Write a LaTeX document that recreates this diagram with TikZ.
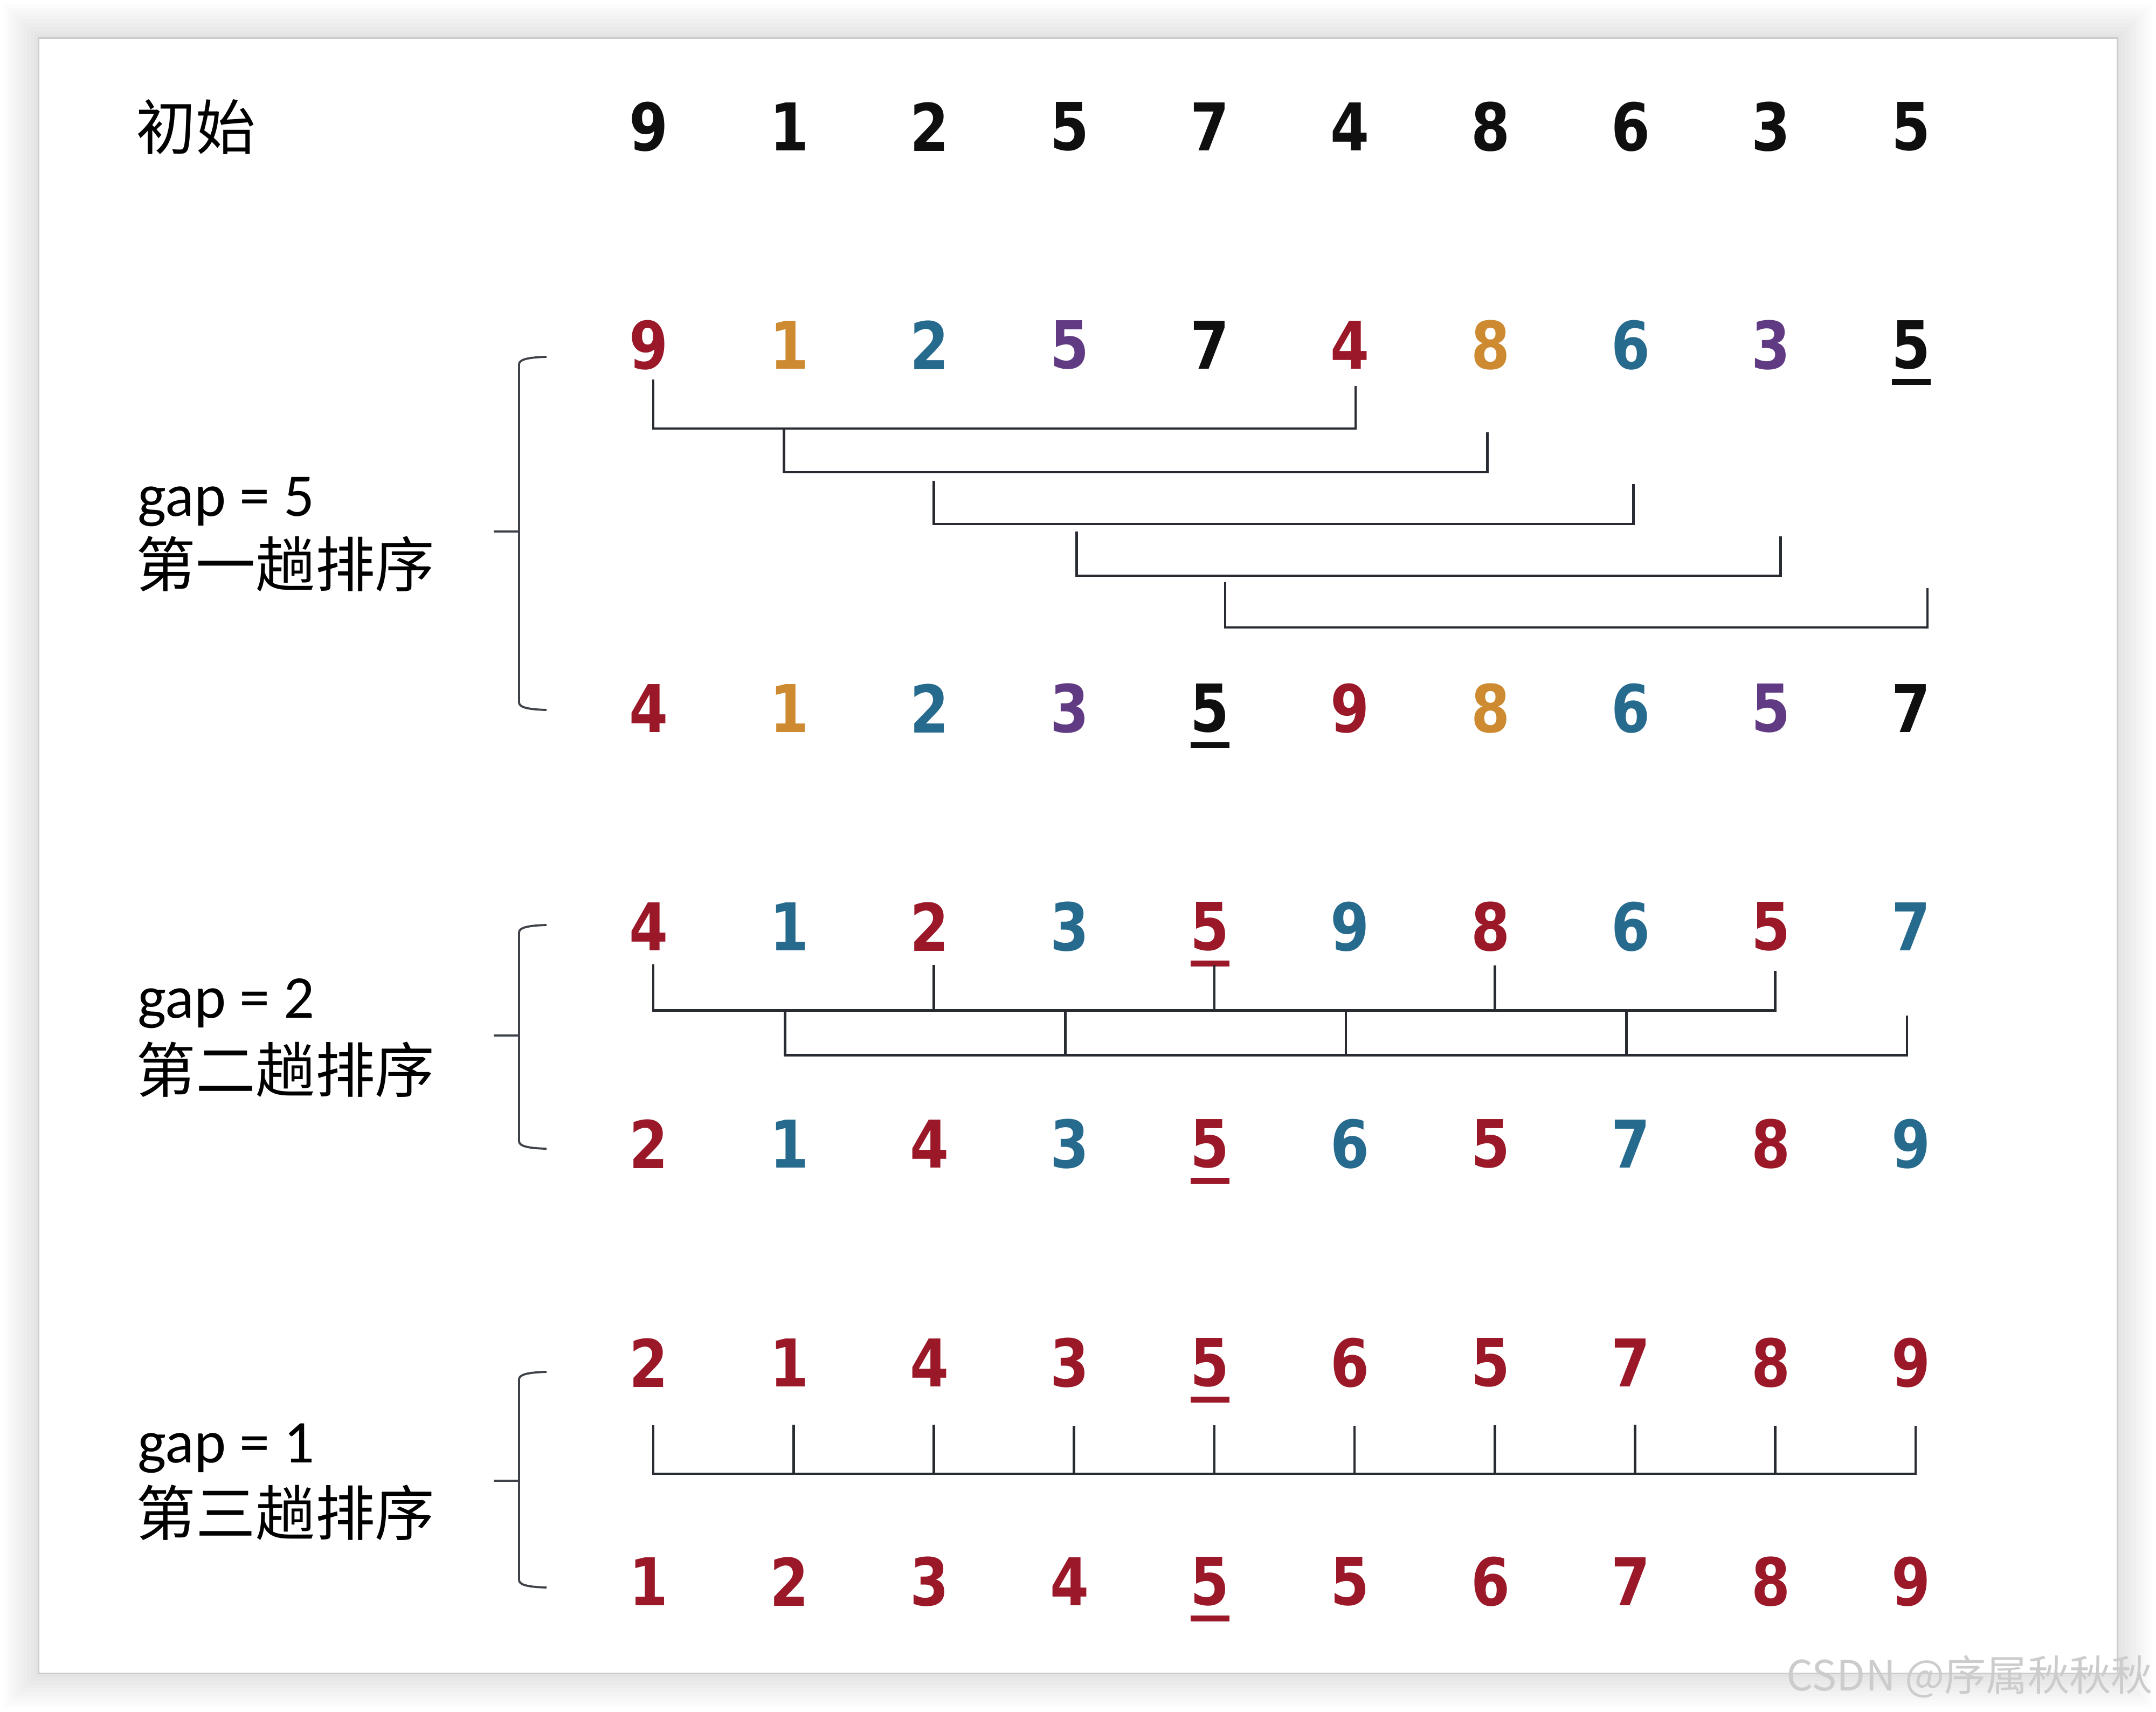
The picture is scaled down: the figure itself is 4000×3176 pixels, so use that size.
\documentclass[tikz,border=0pt]{standalone}
\usepackage{fontspec}
\setmainfont{Carlito}
\newfontfamily\cjkfont{Noto Sans CJK SC}
\newfontfamily\digitfont{DejaVu Sans Bold}[FakeStretch=0.85]
\usetikzlibrary{calc,positioning}

\definecolor{rd}{RGB}{155,24,40}
\definecolor{og}{RGB}{205,138,48}
\definecolor{bl}{RGB}{38,106,142}
\definecolor{pp}{RGB}{96,58,130}
\definecolor{bk}{RGB}{15,15,15}
\definecolor{linkgray}{RGB}{40,44,50}
\definecolor{bracegray}{RGB}{62,66,72}

\tikzset{
  num/.style={inner sep=0pt, font=\digitfont\fontsize{34.7}{40}\selectfont},
  gaplbl/.style={inner sep=0pt, font=\fontsize{32}{38}\selectfont},
  cjk/.style={inner sep=0pt, font=\cjkfont\fontsize{31.5}{38}\selectfont},
  link/.style={draw=linkgray, line width=1.3pt},
  brace/.style={draw=bracegray, line width=1.1pt},
}

% bar under the pivot element
\newcommand{\pivotline}[2]{%
  \draw[line width=0.11cm, #2] ([xshift=-0.36cm,yshift=-0.68cm]#1.center) -- ([xshift=0.36cm,yshift=-0.68cm]#1.center);}
% left bracket of one pass: top, middle, bottom
\newcommand{\passbrace}[3]{%
  \draw[brace] (1014,#1-6) .. controls (975,#1-5) and (963,#1) .. (963,#1+8) -- (963,#3-8)
    .. controls (963,#3) and (975,#3+5) .. (1014,#3+6);
  \draw[brace] (916,#2) -- (963,#2);}

\begin{document}
\begin{tikzpicture}[x=0.01cm, y=-0.01cm]
  \useasboundingbox (0,0) rectangle (4000,3176);
  \fill[white] (0,0) rectangle (4000,3176);
  % card with soft shadow
  \foreach \s in {1,...,9}
    \fill[black, opacity=0.011] (71-7*\s,71-7*\s) rectangle (3928+7*\s,3104+7*\s);
  \fill[white] (71,71) rectangle (3928,3104);
  \draw[black!20, line width=0.03cm] (71,71) rectangle (3928,3104);

  % rows of numbers
  \foreach \r/\y/\vals in {
      0/235/{9/bk,1/bk,2/bk,5/bk,7/bk,4/bk,8/bk,6/bk,3/bk,5/bk},
      1/640/{9/rd,1/og,2/bl,5/pp,7/bk,4/rd,8/og,6/bl,3/pp,5/bk},
      2/1314/{4/rd,1/og,2/bl,3/pp,5/bk,9/rd,8/og,6/bl,5/pp,7/bk},
      3/1719/{4/rd,1/bl,2/rd,3/bl,5/rd,9/bl,8/rd,6/bl,5/rd,7/bl},
      4/2122/{2/rd,1/bl,4/rd,3/bl,5/rd,6/bl,5/rd,7/bl,8/rd,9/bl},
      5/2528/{2/rd,1/rd,4/rd,3/rd,5/rd,6/rd,5/rd,7/rd,8/rd,9/rd},
      6/2934/{1/rd,2/rd,3/rd,4/rd,5/rd,5/rd,6/rd,7/rd,8/rd,9/rd}}
    \foreach \v/\c [count=\i from 0] in \vals
      \node[num, text=\c] (n\r-\i) at ({1204+260.2*\i},\y) {\v};

  \pivotline{n1-9}{bk}
  \pivotline{n2-4}{bk}
  \pivotline{n3-4}{rd}
  \pivotline{n4-4}{rd}
  \pivotline{n5-4}{rd}
  \pivotline{n6-4}{rd}

  % labels
  \node[cjk, anchor=west] (init) at (252,235) {初始};
  \node[gaplbl, anchor=base west] (g5) at (255,957) {gap = 5};
  \node[cjk, anchor=west] (p1) at (252,1046) {第一趟排序};
  \node[gaplbl, anchor=base west] (g2) at (255,1888) {gap = 2};
  \node[cjk, anchor=west] (p2) at (252,1984) {第二趟排序};
  \node[gaplbl, anchor=base west] (g1) at (255,2713) {gap = 1};
  \node[cjk, anchor=west] (p3) at (252,2806) {第三趟排序};

  \passbrace{668}{986}{1311}
  \passbrace{1722}{1921}{2125}
  \passbrace{2551}{2747}{2939}

  % gap = 5
  \foreach \k/\dl/\dr/\yt/\yh/\yr in {0/8/10/704/795/716, 1/-10/-6/795/876/802,
      2/8/5/892/972/898, 3/13/18/986/1068/995, 4/28/30/1080/1164/1091} {
    \pgfmathtruncatemacro{\j}{\k+5}
    \coordinate (bl) at ($(n1-\k.south)+(\dl,0)$);
    \coordinate (br) at ($(n1-\j.south)+(\dr,0)$);
    \draw[link] (bl |- 0,\yt) -- (bl |- 0,\yh) -| (br |- 0,\yr);
  }

  % gap = 2
  \draw[link] ([xshift=0.08cm,yshift=-0.25cm]n3-0.south) -- ++(0,85)
    -| ([xshift=0.08cm,yshift=-0.36cm]n3-8.south);
  \foreach \k in {2,4,6}
    \draw[link] ([xshift=0.08cm,yshift=-0.25cm]n3-\k.south) -- ++(0,85);
  \draw[link] ([xshift=-0.08cm,yshift=-1.1cm]n3-1.south) -- ++(0,83)
    -| ([xshift=-0.08cm,yshift=-1.2cm]n3-9.south);
  \foreach \k in {3,5,7}
    \draw[link] ([xshift=-0.08cm,yshift=-1.1cm]n3-\k.south) -- ++(0,83);

  % gap = 1
  \draw[link] ([xshift=0.08cm,yshift=-0.7cm]n5-0.south) -- ++(0,90)
    -| ([xshift=0.08cm,yshift=-0.7cm]n5-9.south);
  \foreach \k in {1,...,8}
    \draw[link] ([xshift=0.08cm,yshift=-0.7cm]n5-\k.south) -- ++(0,90);

  \node[anchor=east, inner sep=0pt, text=black!20, font=\cjkfont\fontsize{22}{26}\selectfont]
    (wm) at (3995,3110) {CSDN @序属秋秋秋};
\end{tikzpicture}
\end{document}
